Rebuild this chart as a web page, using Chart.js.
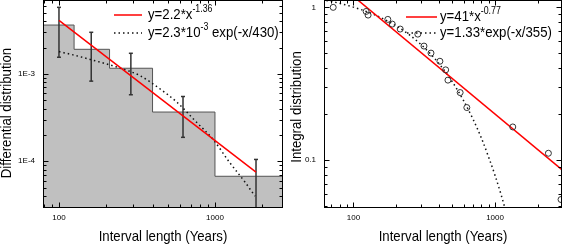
<!DOCTYPE html>
<html><head><meta charset="utf-8">
<script src="https://cdn.jsdelivr.net/npm/chart.js@4/dist/chart.umd.min.js"></script>
<style>
html,body{margin:0;padding:0;background:#fff;width:563px;height:244px;overflow:hidden}
#c1{position:absolute;left:0;top:0}
#c2{position:absolute;left:285px;top:0}
</style></head><body>
<canvas id="c1" width="290" height="244"></canvas>
<canvas id="c2" width="278" height="244"></canvas>
<script>
// ---------- Left panel: differential distribution ----------
const binEdges = [79, 125, 211, 398, 1000, 2730];
const binValues = [3.62e-3, 1.91e-3, 1.16e-3, 3.66e-4, 6.74e-5];
const errX = [100, 161, 289, 624, 1833];
const errLow = [1.55e-3, 8.26e-4, 5.77e-4, 1.88e-4, 2.0e-5];
const errHigh = [5.77e-3, 2.99e-3, 1.72e-3, 5.51e-4, 1.05e-4];
const powerFitX = [100, 1833];
const powerFitY = [4.1e-3, 7.5e-5];
const expFitX = [100, 123, 157, 201, 248, 330, 432, 573, 745, 967, 1247, 1559, 1807];
const expFitY = [1.8e-3, 1.65e-3, 1.47e-3, 1.3e-3, 1.16e-3, 9.56e-4, 6.98e-4, 4.71e-4, 2.91e-4, 1.8e-4, 9.6e-5, 5.77e-5, 3.99e-5];
const leftXTicks = [100, 1000];
const leftXTickLabels = ['100', '1000'];
const leftYTicks = [1e-4, 1e-3];
const leftYTickLabels = ['1E-4', '1E-3'];

// ---------- Right panel: integral distribution ----------
const intX = [72, 123, 127, 175, 188, 214, 285, 315, 353, 408, 448, 465, 567, 632, 1334, 2381, 2924];
const intY = [1.0, 0.94, 0.89, 0.834, 0.777, 0.721, 0.668, 0.558, 0.502, 0.444, 0.39, 0.334, 0.277, 0.221, 0.165, 0.111, 0.0553];
const rPowerX = [100, 3000];
const rPowerY = [1.18, 0.086];
const rExpX = [60, 70, 80, 100, 125, 150, 200, 250, 300, 350, 400, 500, 600, 700, 800, 900, 1000, 1100, 1200];
const rExpY = [1.123, 1.092, 1.062, 1.003, 0.935, 0.872, 0.757, 0.658, 0.571, 0.496, 0.431, 0.325, 0.245, 0.185, 0.14, 0.105, 0.0795, 0.06, 0.0453];
const rightXTicks = [100, 1000];
const rightXTickLabels = ['100', '1000'];
const rightYTicks = [0.1, 1];
const rightYTickLabels = ['0.1', '1'];

const FONT = '"Liberation Sans", Arial, Helvetica, sans-serif';
const SX = 0.88;

function pts(xs, ys) { return xs.map((x, i) => ({x: x, y: ys[i]})); }

function sText(ctx, str, x, y, size, align, rot) {
  ctx.save();
  ctx.translate(x, y);
  if (rot) ctx.rotate(rot);
  ctx.scale(SX, 1);
  ctx.font = size + 'px ' + FONT;
  ctx.textAlign = align || 'left';
  ctx.textBaseline = 'middle';
  ctx.fillStyle = '#000';
  ctx.fillText(str, 0, 0);
  const w = ctx.measureText(str).width * SX;
  ctx.restore();
  return w;
}

function drawLegendLine(ctx, x, y, segs) {
  let cx = x;
  for (const s of segs) {
    if (s.sup) cx += sText(ctx, s.t, cx, y - 6, 10, 'left');
    else cx += sText(ctx, s.t, cx, y, 15, 'left');
  }
}

function minorList(min, max) {
  const out = [];
  for (let d = Math.floor(Math.log10(min)); d <= Math.ceil(Math.log10(max)); d++) {
    for (let m = 2; m <= 9; m++) {
      const v = m * Math.pow(10, d);
      if (v > min && v < max) out.push(v);
    }
  }
  return out;
}

function decorPlugin(opt) {
  return {
    id: 'decor',
    afterDraw(chart) {
      const ctx = chart.ctx, a = chart.chartArea, xs = chart.scales.x, ys = chart.scales.y;
      ctx.save();
      ctx.strokeStyle = '#000';
      ctx.lineWidth = 1;
      const L = Math.round(a.left) + 0.5, R = Math.round(a.right) - 0.5, T = Math.round(a.top) + 0.5, B = Math.round(a.bottom) + 0.5;
      ctx.strokeRect(L, T, R - L, B - T);
      ctx.beginPath();
      const xt = (v, len) => { const p = Math.round(xs.getPixelForValue(v)) + 0.5; ctx.moveTo(p, B); ctx.lineTo(p, B - len); ctx.moveTo(p, T); ctx.lineTo(p, T + len); };
      const yt = (v, len) => { const p = Math.round(ys.getPixelForValue(v)) + 0.5; ctx.moveTo(L, p); ctx.lineTo(L + len, p); ctx.moveTo(R, p); ctx.lineTo(R - len, p); };
      opt.xMajor.forEach(v => xt(v, 5));
      minorList(xs.min, xs.max).forEach(v => { if (!opt.xMajor.includes(v)) xt(v, 3); });
      opt.yMajor.forEach(v => yt(v, 5));
      minorList(ys.min, ys.max).forEach(v => { if (!opt.yMajor.some(m => Math.abs(m - v) / m < 1e-6)) yt(v, 3); });
      ctx.stroke();
      // axis titles
      sText(ctx, opt.xTitle, (a.left + a.right) / 2, 237, 15, 'center');
      sText(ctx, opt.yTitle, opt.yTitleX, opt.yTitleY, 15, 'center', -Math.PI / 2);
      // legend
      opt.legend.forEach(it => {
        ctx.save();
        ctx.beginPath();
        ctx.strokeStyle = it.color;
        ctx.lineWidth = it.width;
        ctx.setLineDash(it.dash || []);
        ctx.moveTo(it.x0, it.y); ctx.lineTo(it.x1, it.y);
        ctx.stroke();
        ctx.restore();
        drawLegendLine(ctx, it.tx, it.y, it.segs);
      });
      ctx.restore();
    }
  };
}

function tickSetup(vals, labels) {
  return {
    afterBuildTicks: s => { s.ticks = vals.map(v => ({value: v})); },
    ticks: {
      callback: (v) => { const i = vals.findIndex(t => Math.abs(t - v) / t < 1e-6); return i >= 0 ? labels[i] : ''; },
      font: {family: FONT, size: 8}, color: '#000', autoSkip: false, maxRotation: 0, minRotation: 0
    }
  };
}
function fitX(h) { return s => { s.height = h; s.paddingLeft = 0; s.paddingRight = 0; s.paddingTop = 0; s.paddingBottom = 0; }; }
function fitY(w) { return s => { s.width = w; s.paddingLeft = 0; s.paddingRight = 0; s.paddingTop = 0; s.paddingBottom = 0; }; }

// error-bar points
const errPts = [];
errX.forEach((x, i) => { errPts.push({x: x, y: errLow[i]}); errPts.push({x: x, y: errHigh[i]}); errPts.push({x: x, y: null}); });

const histPts = pts(binEdges, binValues.concat([binValues[binValues.length - 1]]));

const lx = tickSetup(leftXTicks, leftXTickLabels);
const ly = tickSetup(leftYTicks, leftYTickLabels);
new Chart(document.getElementById('c1'), {
  type: 'line',
  data: {
    datasets: [
      {data: histPts, order: 10, stepped: true, fill: 'start', backgroundColor: '#c0c0c0', borderColor: '#555', borderWidth: 1, pointRadius: 0},
      {data: errPts, order: 3, borderColor: '#333', borderWidth: 1.5, pointStyle: 'line', pointRadius: 2, pointBorderColor: '#333', pointBorderWidth: 1.5, spanGaps: false, fill: false},
      {data: pts(expFitX, expFitY), order: 2, borderColor: '#111', borderWidth: 1.5, borderDash: [1.5, 3], pointRadius: 0, fill: false, cubicInterpolationMode: 'monotone'},
      {data: pts(powerFitX, powerFitY), order: 1, borderColor: '#ff0000', borderWidth: 1.5, pointRadius: 0, fill: false}
    ]
  },
  options: {
    responsive: false, animation: false, devicePixelRatio: 1,
    layout: {autoPadding: false, padding: {top: 0, right: 7, left: 0, bottom: 0}},
    plugins: {legend: {display: false}, tooltip: {enabled: false}},
    scales: {
      x: {type: 'logarithmic', min: 79, max: 2730, grid: {display: false, drawTicks: false}, border: {display: false},
          afterBuildTicks: lx.afterBuildTicks, ticks: Object.assign({padding: 6}, lx.ticks), afterFit: fitX(37)},
      y: {type: 'logarithmic', min: 3.0e-5, max: 7.0e-3, grid: {display: false, drawTicks: false}, border: {display: false},
          afterBuildTicks: ly.afterBuildTicks, ticks: Object.assign({padding: 8}, ly.ticks), afterFit: fitY(43)}
    }
  },
  plugins: [decorPlugin({
    xMajor: leftXTicks, yMajor: leftYTicks,
    xTitle: 'Interval length (Years)', yTitle: 'Differential distribution', yTitleX: 7, yTitleY: 113,
    legend: [
      {x0: 114, x1: 142, y: 15, color: '#ff0000', width: 1.5, tx: 148, segs: [{t: 'y=2.2*x'}, {t: '-1.36', sup: true}]},
      {x0: 114, x1: 142, y: 33, color: '#111', width: 1.5, dash: [1.5, 3], tx: 148, segs: [{t: 'y=2.3*10'}, {t: '-3', sup: true}, {t: ' exp(-x/430)'}]}
    ]
  })]
});

const rx = tickSetup(rightXTicks, rightXTickLabels);
const ry = tickSetup(rightYTicks, rightYTickLabels);
new Chart(document.getElementById('c2'), {
  type: 'line',
  data: {
    datasets: [
      {data: pts(rExpX, rExpY), order: 3, borderColor: '#111', borderWidth: 1.5, borderDash: [1.5, 3], pointRadius: 0, fill: false, cubicInterpolationMode: 'monotone'},
      {data: pts(rPowerX, rPowerY), order: 2, borderColor: '#ff0000', borderWidth: 1.5, pointRadius: 0, fill: false},
      {data: pts(intX, intY), order: 1, showLine: false, pointStyle: 'circle', pointRadius: 3, pointBorderColor: '#333', pointBackgroundColor: 'rgba(0,0,0,0)', pointBorderWidth: 1}
    ]
  },
  options: {
    responsive: false, animation: false, devicePixelRatio: 1,
    layout: {autoPadding: false, padding: {top: 0, right: 1, left: 0, bottom: 0}},
    plugins: {legend: {display: false}, tooltip: {enabled: false}},
    scales: {
      x: {type: 'logarithmic', min: 62, max: 2970, grid: {display: false, drawTicks: false}, border: {display: false},
          afterBuildTicks: rx.afterBuildTicks, ticks: Object.assign({padding: 6}, rx.ticks), afterFit: fitX(37)},
      y: {type: 'logarithmic', min: 0.0494, max: 1.117, grid: {display: false, drawTicks: false}, border: {display: false},
          afterBuildTicks: ry.afterBuildTicks, ticks: Object.assign({padding: 8}, ry.ticks), afterFit: fitY(39)}
    }
  },
  plugins: [decorPlugin({
    xMajor: rightXTicks, yMajor: rightYTicks,
    xTitle: 'Interval length (Years)', yTitle: 'Integral distribution', yTitleX: 12, yTitleY: 107,
    legend: [
      {x0: 121, x1: 152, y: 17, color: '#ff0000', width: 1.5, tx: 155, segs: [{t: 'y=41*x'}, {t: '-0.77', sup: true}]},
      {x0: 122, x1: 152, y: 33, color: '#111', width: 1.5, dash: [1.5, 3], tx: 155, segs: [{t: 'y=1.33*exp(-x/355)'}]}
    ]
  })]
});
</script>
</body></html>
